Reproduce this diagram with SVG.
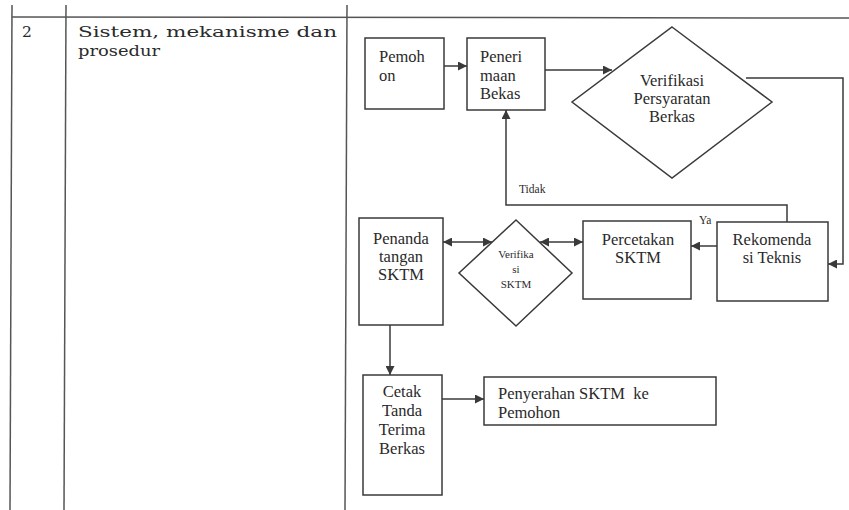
<svg xmlns="http://www.w3.org/2000/svg" width="849" height="510" viewBox="0 0 849 510">
<style>
.tbl{stroke:#555;stroke-width:1.5;fill:none}
.box{fill:#fff;stroke:#3a3a3a;stroke-width:1.5}
.con{fill:none;stroke:#3a3a3a;stroke-width:1.5}
.t{font-family:"Liberation Serif","Times New Roman",serif;font-size:16.5px;fill:#2a2a2a}
.tc{text-anchor:middle}
.s{font-size:11.5px}
.xs{font-size:11px}
.hd{font-family:"DejaVu Serif","Liberation Serif",serif;font-size:15.5px;fill:#2a2a2a}
</style>
<defs>
<marker id="ah" viewBox="0 0 10 10" refX="10" refY="5" markerWidth="10" markerHeight="9" markerUnits="userSpaceOnUse" orient="auto-start-reverse">
<path d="M0,0 L10,5 L0,10 z" fill="#3a3a3a"/>
</marker>
</defs>
<rect width="849" height="510" fill="#fff"/>
<g id="table">
<line class="tbl" x1="12" y1="5" x2="10" y2="510"/>
<line class="tbl" x1="66" y1="5" x2="64" y2="510"/>
<line class="tbl" x1="347" y1="5" x2="345" y2="510"/>
<line class="tbl" x1="12" y1="17" x2="849" y2="18"/>
<text class="hd" x="22" y="37">2</text>
<text class="hd" x="78" y="37" textLength="259" lengthAdjust="spacingAndGlyphs">Sistem, mekanisme dan</text>
<text class="hd" x="78" y="56" textLength="82" lengthAdjust="spacingAndGlyphs">prosedur</text>
</g>
<g id="connectors">
<line class="con" x1="444" y1="66" x2="467" y2="66" marker-end="url(#ah)"/>
<line class="con" x1="545" y1="70" x2="612" y2="70" marker-end="url(#ah)"/>
<path class="con" d="M746,78 H843 V264 H828" marker-end="url(#ah)"/>
<path class="con" d="M787,222 V205 H506 V110" marker-end="url(#ah)"/>
<line class="con" x1="717" y1="246" x2="691" y2="246" marker-end="url(#ah)"/>
<line class="con" x1="540" y1="242" x2="583" y2="242" marker-start="url(#ah)" marker-end="url(#ah)"/>
<line class="con" x1="443" y1="242" x2="492" y2="242" marker-start="url(#ah)" marker-end="url(#ah)"/>
<line class="con" x1="390" y1="325" x2="390" y2="375" marker-end="url(#ah)"/>
<line class="con" x1="442" y1="399" x2="484" y2="399" marker-end="url(#ah)"/>
<text class="t s" x="519" y="193">Tidak</text>
<text class="t s" x="699" y="224">Ya</text>
</g>
<g id="pemohon">
<rect class="box" x="365" y="38" width="79" height="71"/>
<text class="t" x="379" y="62">Pemoh</text>
<text class="t" x="379" y="81">on</text>
</g>
<g id="penerimaan">
<rect class="box" x="467" y="38" width="78" height="72"/>
<text class="t" x="480" y="62">Peneri</text>
<text class="t" x="480" y="81">maan</text>
<text class="t" x="480" y="99">Bekas</text>
</g>
<g id="verifikasi">
<polygon class="box" points="672,27 772,102 672,178 572,102"/>
<text class="t tc" x="672" y="86">Verifikasi</text>
<text class="t tc" x="672" y="104">Persyaratan</text>
<text class="t tc" x="672" y="122">Berkas</text>
</g>
<g id="rekomendasi">
<rect class="box" x="717" y="222" width="111" height="79"/>
<text class="t tc" x="772" y="245">Rekomenda</text>
<text class="t tc" x="772" y="263">si Teknis</text>
</g>
<g id="percetakan">
<rect class="box" x="583" y="221" width="108" height="78"/>
<text class="t tc" x="638" y="245">Percetakan</text>
<text class="t tc" x="638" y="263">SKTM</text>
</g>
<g id="verifikasi-sktm">
<polygon class="box" points="516,220 572,273 516,326 459,273"/>
<text class="t tc xs" x="516" y="258">Verifika</text>
<text class="t tc xs" x="516" y="273">si</text>
<text class="t tc xs" x="516" y="288">SKTM</text>
</g>
<g id="penanda">
<rect class="box" x="359" y="218" width="84" height="107"/>
<text class="t tc" x="401" y="244">Penanda</text>
<text class="t tc" x="401" y="262">tangan</text>
<text class="t tc" x="401" y="280">SKTM</text>
</g>
<g id="cetak">
<rect class="box" x="363" y="375" width="79" height="120"/>
<text class="t tc" x="402" y="397">Cetak</text>
<text class="t tc" x="402" y="416">Tanda</text>
<text class="t tc" x="402" y="435">Terima</text>
<text class="t tc" x="402" y="454">Berkas</text>
</g>
<g id="penyerahan">
<rect class="box" x="484" y="377" width="232" height="48"/>
<text class="t" x="498" y="399" xml:space="preserve">Penyerahan SKTM  ke</text>
<text class="t" x="498" y="418">Pemohon</text>
</g>
</svg>
